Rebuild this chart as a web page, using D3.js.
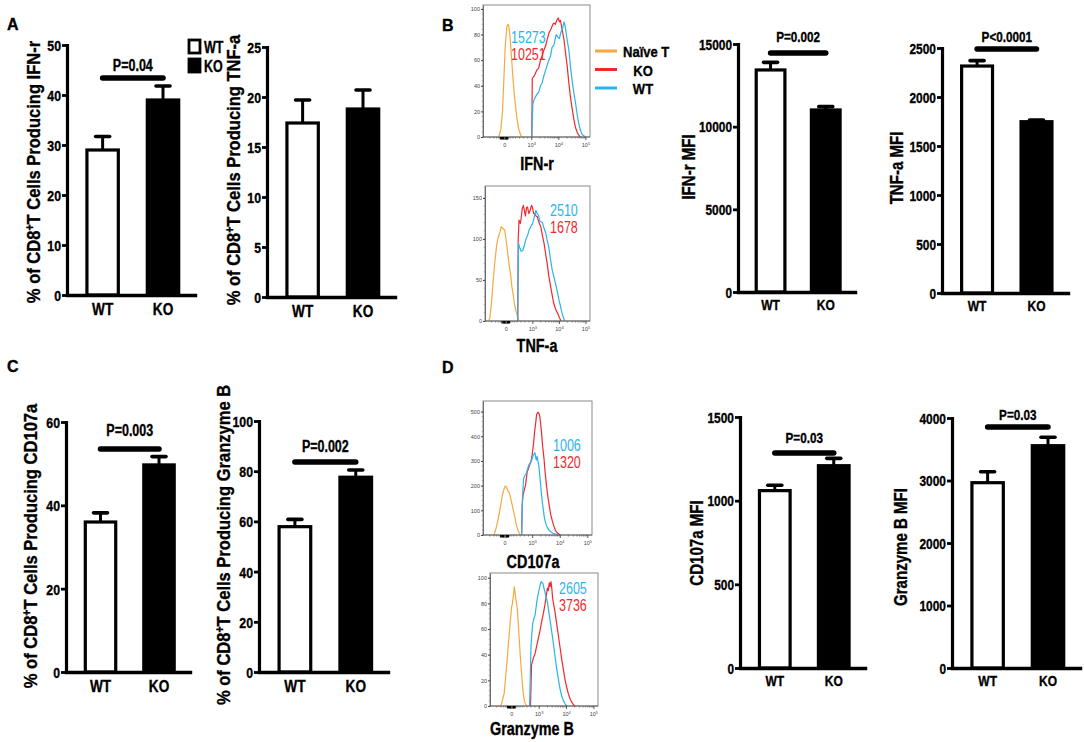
<!DOCTYPE html>
<html>
<head>
<meta charset="utf-8">
<script src="https://cdn.jsdelivr.net/npm/d3@7"></script>
<style>
  body { margin: 0; background: #fff; }
  svg text { font-family: 'Liberation Sans Narrow', 'Arial Narrow', 'Liberation Sans', Arial, sans-serif; }
  svg text.heavy { font-weight: bold; stroke: #000; stroke-width: 0.35px; }
</style>
</head>
<body>
<svg width="1084" height="742"></svg>
<script>
// groups on every bar chart
var groups = ["WT", "KO"];

// % of CD8+ T cells producing ... (mean, SEM)
var ifnPctMean = [29.0, 39.0], ifnPctSem = [2.7, 2.8];
var tnfPctMean = [17.4, 18.8], tnfPctSem = [2.3, 1.9];
var cd107PctMean = [36.0, 49.7], cd107PctSem = [2.2, 2.0];
var grbPctMean = [57.9, 77.6], grbPctSem = [2.9, 2.9];

// MFI (mean, SEM)
var ifnMfiMean = [13430, 11010], ifnMfiSem = [460, 200];
var tnfMfiMean = [2316, 1748], tnfMfiSem = [55, 17];
var cd107MfiMean = [1060, 1209], cd107MfiSem = [32, 44];
var grbMfiMean = [2965, 3557], grbMfiSem = [176, 134];

// p values
var pLabels = ["P=0.04", "P=0.002", "P<0.0001", "P=0.003", "P=0.002", "P=0.03", "P=0.03"];

// histogram MFI numbers [WT, KO]
var ifnHistMfi = ["15273", "10251"];
var tnfHistMfi = ["2510", "1678"];
var cd107HistMfi = ["1006", "1320"];
var grbHistMfi = ["2605", "3736"];

// histogram curves: [axis position in decades (0 label = 2, 10^3 = 3 ...), count]
var ifnNaive = [[1.78,0],[1.86,6],[1.92,20],[1.97,45],[2.02,70],[2.08,86],[2.11,88],[2.15,87],[2.2,78],[2.26,60],[2.32,42],[2.38,28],[2.45,15],[2.52,6],[2.6,1],[2.66,0]];
var ifnKO = [[3.0,0],[3.02,46],[3.1,48],[3.18,52],[3.26,54],[3.32,60],[3.38,63],[3.45,68],[3.51,71],[3.57,76],[3.63,81],[3.7,84],[3.76,87],[3.81,89],[3.87,88],[3.92,91],[3.98,93],[4.02,90],[4.06,91],[4.12,84],[4.19,76],[4.25,65],[4.31,55],[4.37,42],[4.43,31],[4.5,21],[4.56,13],[4.62,7],[4.68,3.5],[4.75,1],[4.8,0]];
var ifnWT = [[3.0,0],[3.04,26],[3.1,30],[3.18,33],[3.26,35],[3.32,40],[3.38,42],[3.45,48],[3.51,52],[3.57,56],[3.63,60],[3.69,63],[3.75,70],[3.82,72],[3.9,80],[3.96,78],[4.02,77],[4.08,82],[4.14,85],[4.19,90],[4.23,87],[4.27,81],[4.32,74],[4.37,68],[4.43,55],[4.49,44],[4.55,35],[4.62,26],[4.68,17],[4.74,10],[4.8,5],[4.86,2],[4.92,1],[4.98,0]];

var tnfNaive = [[1.32,0],[1.38,3],[1.45,25],[1.51,50],[1.57,72],[1.63,90],[1.68,100],[1.71,103],[1.76,108],[1.81,115],[1.86,113],[1.94,111],[1.99,100],[2.04,87],[2.08,76],[2.12,66],[2.17,55],[2.21,42],[2.26,32],[2.31,21],[2.36,13],[2.41,7],[2.46,1],[2.5,0]];
var tnfKO = [[2.43,0],[2.45,100],[2.48,123],[2.53,119],[2.56,125],[2.6,137],[2.64,141],[2.68,135],[2.72,128],[2.76,138],[2.8,139],[2.85,131],[2.9,135],[2.95,141],[2.99,138],[3.03,131],[3.07,131],[3.12,128],[3.17,127],[3.23,120],[3.3,115],[3.36,104],[3.42,95],[3.48,82],[3.54,70],[3.6,55],[3.67,42],[3.73,31],[3.79,21],[3.86,14],[3.94,9],[4.0,4],[4.06,0]];
var tnfWT = [[2.43,0],[2.46,95],[2.5,90],[2.56,85],[2.62,86],[2.68,92],[2.74,100],[2.8,104],[2.86,111],[2.92,115],[2.99,119],[3.05,126],[3.11,135],[3.16,131],[3.21,129],[3.26,122],[3.31,121],[3.36,120],[3.42,113],[3.48,108],[3.54,98],[3.6,90],[3.66,76],[3.73,62],[3.79,54],[3.85,46],[3.92,36],[3.98,26],[4.04,18],[4.1,9],[4.15,4],[4.2,0]];

var cd107Naive = [[1.6,0],[1.68,30],[1.76,70],[1.84,120],[1.9,160],[1.96,185],[2.0,198],[2.04,196],[2.1,180],[2.16,170],[2.22,140],[2.28,110],[2.34,80],[2.4,45],[2.46,20],[2.52,6],[2.56,0]];
var cd107KO = [[2.6,0],[2.62,120],[2.65,160],[2.7,185],[2.74,201],[2.8,255],[2.85,270],[2.89,283],[2.94,300],[2.98,323],[3.03,370],[3.07,418],[3.11,455],[3.14,486],[3.17,495],[3.2,497],[3.23,492],[3.26,480],[3.29,450],[3.32,418],[3.36,360],[3.41,310],[3.45,255],[3.5,201],[3.55,155],[3.6,120],[3.65,85],[3.71,58],[3.77,35],[3.83,18],[3.9,8],[3.99,0]];
var cd107WT = [[2.6,0],[2.63,150],[2.67,228],[2.72,242],[2.77,250],[2.82,270],[2.86,283],[2.9,290],[2.94,296],[2.98,310],[3.02,323],[3.06,330],[3.08,334],[3.11,315],[3.13,303],[3.16,319],[3.19,300],[3.22,283],[3.25,250],[3.28,215],[3.31,175],[3.35,133],[3.39,100],[3.43,65],[3.48,45],[3.53,31],[3.59,20],[3.65,13],[3.74,7],[3.83,4],[3.95,0]];

var grbNaive = [[1.6,0],[1.66,5],[1.72,10],[1.77,22],[1.83,37],[1.87,48],[1.91,58],[1.95,68],[1.99,77],[2.02,80],[2.05,85],[2.09,93],[2.12,88],[2.14,84],[2.17,80],[2.2,76],[2.24,62],[2.27,52],[2.31,38],[2.36,24],[2.4,13],[2.44,6],[2.49,2],[2.54,0]];
var grbWT = [[2.65,0],[2.68,30],[2.7,47],[2.73,56],[2.76,64],[2.8,68],[2.85,71],[2.88,76],[2.91,81],[2.95,86],[2.99,90],[3.03,94],[3.07,97],[3.1,96],[3.13,96],[3.17,92],[3.21,89],[3.25,85],[3.3,81],[3.34,75],[3.39,68],[3.45,59],[3.51,50],[3.57,40],[3.64,29],[3.7,21],[3.76,13.5],[3.82,8],[3.88,4.4],[3.95,1.5],[4.01,0]];
var grbKO = [[2.68,0],[2.72,32],[2.78,37],[2.85,41],[2.91,47],[2.97,53],[3.03,59],[3.09,66],[3.15,72],[3.21,79],[3.26,86],[3.3,92],[3.33,90],[3.37,96],[3.4,93],[3.43,97],[3.46,92],[3.49,84],[3.53,79],[3.58,73],[3.64,64],[3.7,55],[3.76,46],[3.82,37],[3.88,29],[3.94,21],[4.0,15],[4.06,10],[4.12,6],[4.19,3],[4.25,1],[4.31,0]];

// colours
var naiveColor = "#f9a73e", koColor = "#f0282d", wtColor = "#2ab4ea";

var svg = d3.select("svg");

// every text gets a horizontal squeeze factor (the figure uses a condensed face)
function squeeze(sel, k) { return sel.attr("data-k", k); }

// ---------- bar charts ----------
var barCharts = [
  { mean: ifnPctMean, sem: ifnPctSem, ax: 67, len: 128, y0: 295, yTop: 45, max: 50, ticks: d3.range(0, 51, 10),
    title: "IFN-r", pct: true, tx: 40, ty: 172, p: pLabels[0], pLevel: 43.4, pGap: 7, big: true },
  { mean: tnfPctMean, sem: tnfPctSem, ax: 267, len: 128, y0: 297, yTop: 47, max: 25, ticks: d3.range(0, 26, 5),
    title: "TNF-a", pct: true, tx: 240, ty: 170, big: true },
  { mean: ifnMfiMean, sem: ifnMfiSem, ax: 738, len: 117, y0: 292, yTop: 44, max: 15000, ticks: [0, 5000, 10000, 15000],
    title: "IFN-r MFI", tx: 695, ty: 167, p: pLabels[1], pLevel: 14456, pGap: 11 },
  { mean: tnfMfiMean, sem: tnfMfiSem, ax: 942, len: 126, y0: 293, yTop: 48, max: 2500, ticks: d3.range(0, 2501, 500),
    title: "TNF-a MFI", tx: 903, ty: 168, p: pLabels[2], pLevel: 2490, pGap: 7 },
  { mean: cd107PctMean, sem: cd107PctSem, ax: 66, len: 124, y0: 672, yTop: 422, max: 60, ticks: [0, 20, 40, 60],
    title: "CD107a", pct: true, tx: 37, ty: 546, p: pLabels[3], pLevel: 53.5, pGap: 13, big: true },
  { mean: grbPctMean, sem: grbPctSem, ax: 259, len: 129, y0: 672, yTop: 421, max: 100, ticks: d3.range(0, 101, 20),
    title: "Granzyme B", pct: true, tx: 230, ty: 545, p: pLabels[4], pLevel: 83.7, pGap: 10, big: true },
  { mean: cd107MfiMean, sem: cd107MfiSem, ax: 740, len: 125, y0: 668, yTop: 417, max: 1500, ticks: [0, 500, 1000, 1500],
    title: "CD107a  MFI", tx: 703, ty: 543, p: pLabels[5], pLevel: 1285, pGap: 10 },
  { mean: grbMfiMean, sem: grbMfiSem, ax: 952, len: 128, y0: 668, yTop: 418, max: 4000, ticks: d3.range(0, 4001, 1000),
    title: "Granzyme B MFI", tx: 907, ty: 547, p: pLabels[6], pLevel: 3856, pGap: 7 }
];

function drawBarChart(c) {
  var g = svg.append("g");

  var y = d3.scaleLinear().domain([0, c.max]).range([c.y0, c.yTop]);
  var x = d3.scaleBand().domain(groups).range([c.ax, c.ax + c.len])
    .paddingInner(0.48).paddingOuter(0.3).align(0.55);

  // bars
  g.selectAll(".bar").data(groups).enter().append("rect")
    .attr("class", "bar")
    .attr("x", d => x(d))
    .attr("width", x.bandwidth())
    .attr("y", (d, i) => y(c.mean[i]))
    .attr("height", (d, i) => c.y0 - y(c.mean[i]))
    .attr("fill", (d, i) => i ? "#000" : "#fff")
    .attr("stroke", "#000")
    .attr("stroke-width", 3.2);

  // error bars (upper only)
  var eb = g.selectAll(".err").data(groups).enter().append("g");
  eb.append("line")
    .attr("x1", d => x(d) + x.bandwidth() / 2).attr("x2", d => x(d) + x.bandwidth() / 2)
    .attr("y1", (d, i) => y(c.mean[i])).attr("y2", (d, i) => y(c.mean[i] + c.sem[i]))
    .attr("stroke", "#000").attr("stroke-width", 3);
  eb.append("line")
    .attr("x1", d => x(d) + x.bandwidth() / 2 - 7).attr("x2", d => x(d) + x.bandwidth() / 2 + 7)
    .attr("y1", (d, i) => y(c.mean[i] + c.sem[i])).attr("y2", (d, i) => y(c.mean[i] + c.sem[i]))
    .attr("stroke", "#000").attr("stroke-width", 3.6).attr("stroke-linecap", "round");

  // y axis
  var ya = g.append("g").attr("transform", `translate(${c.ax},0)`)
    .call(d3.axisLeft(y).tickValues(c.ticks).tickFormat(d3.format("d"))
      .tickSize(5).tickSizeOuter(0).tickPadding(1));
  ya.select(".domain").attr("stroke-width", 3.2).attr("stroke-linecap", "square");
  ya.selectAll(".tick line").attr("stroke-width", 2.8);
  squeeze(ya.selectAll(".tick text"), 0.82)
    .attr("class", "heavy")
    .style("font-size", c.big ? "15px" : "14.5px")
    .attr("fill", "#000").attr("dy", "0.36em");

  // x axis
  var xa = g.append("g").attr("transform", `translate(0,${c.y0})`)
    .call(d3.axisBottom(x).tickSize(0).tickSizeOuter(0).tickPadding(c.big ? 8 : 7));
  xa.select(".domain").attr("stroke-width", 3.4).attr("stroke-linecap", "square");
  squeeze(xa.selectAll(".tick text"), 0.8)
    .attr("class", "heavy")
    .style("font-size", c.big ? "17px" : "15px").attr("fill", "#000");

  // y title
  var t = g.append("text")
    .attr("class", "heavy")
    .attr("transform", `translate(${c.tx},${c.ty}) rotate(-90)`)
    .attr("text-anchor", "middle")
    .style("font-size", c.pct ? "19px" : "17.5px");
  squeeze(t, c.pct ? 0.87 : 0.86);
  if (c.pct) {
    t.append("tspan").text("% of CD8");
    t.append("tspan").attr("dy", -6).style("font-size", "12px").text("+");
    t.append("tspan").attr("dy", 6).text("T Cells Producing " + c.title);
  } else {
    t.text(c.title);
  }

  // significance bracket
  if (c.p) {
    var xa0 = x(groups[0]) + x.bandwidth() / 2, xa1 = x(groups[1]) + x.bandwidth() / 2;
    g.append("line")
      .attr("x1", xa0).attr("x2", xa1)
      .attr("y1", y(c.pLevel)).attr("y2", y(c.pLevel))
      .attr("stroke", "#000").attr("stroke-width", 5.5).attr("stroke-linecap", "round");
    squeeze(g.append("text"), 0.78)
      .attr("class", "heavy")
      .attr("x", (xa0 + xa1) / 2).attr("y", y(c.pLevel) - c.pGap)
      .attr("text-anchor", "middle")
      .style("font-size", c.big ? "16px" : "15px")
      .text(c.p);
  }
}
barCharts.forEach(drawBarChart);

// legend of panel A
var legA = svg.append("g");
legA.selectAll("rect").data(groups).enter().append("rect")
  .attr("x", 189).attr("y", (d, i) => 40 + i * 19)
  .attr("width", 11).attr("height", 13)
  .attr("fill", (d, i) => i ? "#000" : "#fff")
  .attr("stroke", "#000").attr("stroke-width", 2.8);
squeeze(legA.selectAll("text").data(groups).enter().append("text"), 0.78)
  .attr("class", "heavy")
  .attr("x", 204).attr("y", (d, i) => 52.5 + i * 19)
  .style("font-size", "16px").text(d => d);

// ---------- histograms ----------
var histograms = [
  { curves: [ifnNaive, ifnKO, ifnWT], mfi: ifnHistMfi, x0: 483, x1: 590, y0: 5, y1: 137, max: 103.1,
    ticks: d3.range(0, 101, 20), label: "IFN-r", lx: 537, ly: 170, mx: 511, my: 37 },
  { curves: [tnfNaive, tnfKO, tnfWT], mfi: tnfHistMfi, x0: 485, x1: 590, y0: 186, y1: 321, max: 164.6,
    ticks: [0, 50, 100, 150], label: "TNF-a", lx: 537, ly: 352, mx: 550, my: 210 },
  { curves: [cd107Naive, cd107KO, cd107WT], mfi: cd107HistMfi, x0: 483, x1: 592, y0: 401, y1: 535, max: 543,
    ticks: d3.range(0, 501, 100), label: "CD107a", lx: 533, ly: 568, mx: 553, my: 445 },
  { curves: [grbNaive, grbKO, grbWT], mfi: grbHistMfi, x0: 490, x1: 598, y0: 573, y1: 706, max: 103.7,
    ticks: d3.range(0, 101, 20), label: "Granzyme B", lx: 532, ly: 735, mx: 559, my: 588 }
];

var majorTicks = [2, 3, 4, 5];
var majorLabels = ["0", "10", "10", "10"];
var majorExp = ["", "3", "4", "5"];

function drawHistogram(h) {
  var g = svg.append("g");
  var x = d3.scaleLinear().domain([1.2, 5.15]).range([h.x0, h.x1]);
  var y = d3.scaleLinear().domain([0, h.max]).range([h.y1, h.y0]);

  g.append("rect")
    .attr("x", h.x0).attr("y", h.y0)
    .attr("width", h.x1 - h.x0).attr("height", h.y1 - h.y0)
    .attr("fill", "none").attr("stroke", "#8a8a8a").attr("stroke-width", 1);

  var line = d3.line().x(p => x(p[0])).y(p => y(p[1]));
  var cols = [naiveColor, koColor, wtColor];
  g.selectAll(".curve").data(h.curves).enter().append("path")
    .attr("d", line)
    .attr("fill", "none")
    .attr("stroke", (d, i) => cols[i])
    .attr("stroke-width", 1.2)
    .attr("stroke-linejoin", "round");

  // y axis
  var ya = g.append("g").attr("transform", `translate(${h.x0},0)`)
    .call(d3.axisLeft(y).tickValues(h.ticks).tickSize(2).tickSizeOuter(0).tickPadding(1));
  ya.select(".domain").attr("stroke", "#555").attr("stroke-width", 0.8);
  ya.selectAll(".tick line").attr("stroke", "#444");
  ya.selectAll(".tick text").style("font-size", "5.5px").attr("fill", "#444");

  // minor y ticks
  var yMinor = d3.range(0, h.ticks[h.ticks.length - 1] + 0.1, (h.ticks[1] - h.ticks[0]) / 5);
  g.selectAll(".ymin").data(yMinor).enter().append("line")
    .attr("x1", h.x0 - 1.2).attr("x2", h.x0)
    .attr("y1", d => y(d)).attr("y2", d => y(d))
    .attr("stroke", "#666").attr("stroke-width", 0.5);

  // x axis with biexponential style ticks
  g.append("line").attr("x1", h.x0).attr("x2", h.x1).attr("y1", h.y1).attr("y2", h.y1)
    .attr("stroke", "#555").attr("stroke-width", 0.8);
  var minor = [];
  [3, 4].forEach(function (dec) {
    d3.range(2, 10).forEach(k => minor.push(dec + Math.log10(k)));
  });
  [1.45, 1.6, 1.7, 1.78, 1.84, 1.88, 1.91, 1.94, 1.96, 2.04, 2.06, 2.09, 2.12, 2.16, 2.22, 2.3, 2.4, 2.55, 2.7, 2.85]
    .forEach(v => minor.push(v));
  g.selectAll(".xmin").data(minor).enter().append("line")
    .attr("x1", d => x(d)).attr("x2", d => x(d))
    .attr("y1", h.y1).attr("y2", d => (d > 1.8 && d < 2.15) ? h.y1 + 2.4 : h.y1 + 1.6)
    .attr("stroke", d => (d > 1.8 && d < 2.15) ? "#000" : "#555")
    .attr("stroke-width", d => (d > 1.8 && d < 2.15) ? 1.2 : 0.6);
  g.selectAll(".xmaj").data(majorTicks).enter().append("line")
    .attr("x1", d => x(d)).attr("x2", d => x(d))
    .attr("y1", h.y1).attr("y2", h.y1 + 3)
    .attr("stroke", "#333").attr("stroke-width", 0.8);
  var xl = g.selectAll(".xlab").data(majorTicks).enter().append("text")
    .attr("x", d => x(d)).attr("y", h.y1 + 10)
    .attr("text-anchor", "middle")
    .style("font-size", "5.5px").attr("fill", "#444");
  xl.append("tspan").text((d, i) => majorLabels[i]);
  xl.append("tspan").attr("dy", -2.5).style("font-size", "4px").text((d, i) => majorExp[i]);

  // MFI numbers
  squeeze(g.selectAll(".mfi").data(h.mfi).enter().append("text"), 0.78)
    .attr("x", h.mx).attr("y", (d, i) => h.my + 5.5 + i * 17)
    .style("font-size", "16px")
    .attr("fill", (d, i) => i ? koColor : wtColor)
    .text(d => d);

  // parameter label
  squeeze(g.append("text"), 0.8)
    .attr("class", "heavy")
    .attr("x", h.lx).attr("y", h.ly)
    .attr("text-anchor", "middle")
    .style("font-size", "18px")
    .text(h.label);
}
histograms.forEach(drawHistogram);

// legend of panel B
var legNames = ["Naïve T", "KO", "WT"];
var legCols = [naiveColor, koColor, wtColor];
var legB = svg.append("g");
legB.selectAll("line").data(legNames).enter().append("line")
  .attr("x1", 595).attr("x2", 617)
  .attr("y1", (d, i) => 51 + i * 18.5).attr("y2", (d, i) => 51 + i * 18.5)
  .attr("stroke", (d, i) => legCols[i]).attr("stroke-width", 3);
squeeze(legB.selectAll("text").data(legNames).enter().append("text"), 0.84)
  .attr("class", "heavy")
  .attr("x", (d, i) => i ? 643 : 623)
  .attr("y", (d, i) => 57 + i * 18.5)
  .attr("text-anchor", (d, i) => i ? "middle" : "start")
  .style("font-size", "15.5px").text(d => d);

// panel letters
var letters = [["A", 7, 30], ["B", 442, 31], ["C", 7, 372], ["D", 442, 373]];
svg.selectAll(".letter").data(letters).enter().append("text")
  .attr("class", "heavy")
  .attr("x", d => d[1]).attr("y", d => d[2])
  .style("font-family", "'Liberation Sans', Arial, sans-serif")
  .style("font-size", "16px")
  .text(d => d[0]);

// apply the squeeze
svg.selectAll("text[data-k]").each(function () {
  var k = +this.getAttribute("data-k");
  var len = this.getComputedTextLength();
  this.setAttribute("textLength", (len * k).toFixed(1));
  this.setAttribute("lengthAdjust", "spacingAndGlyphs");
});
</script>
</body>
</html>
